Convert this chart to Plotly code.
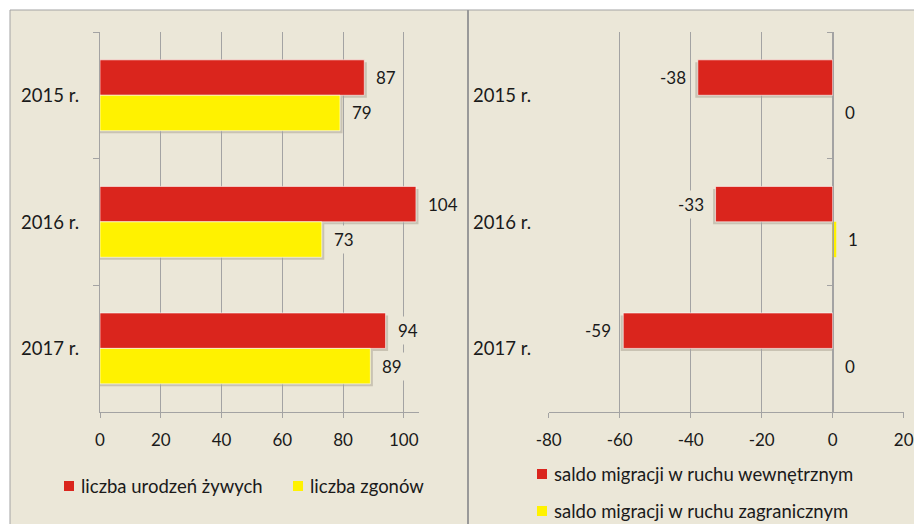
import plotly.graph_objects as go

# ---- data ----
years = ["2015 r.", "2016 r.", "2017 r."]
births = [87, 104, 94]
deaths = [79, 73, 89]
internal = [-38, -33, -59]
foreign = [0, 1, 0]
left_ticks = [0, 20, 40, 60, 80, 100]
right_ticks = [-80, -60, -40, -20, 0, 20]
left_names = ["liczba urodzeń żywych", "liczba zgonów"]
right_names = ["saldo migracji w ruchu wewnętrznym", "saldo migracji w ruchu zagranicznym"]

# ---- style ----
W, H = 914, 524
BG = "#EBE7D8"
RED = "#DA251D"
YEL = "#FFF200"
GRID = "#A3A3A3"
TXT = "#1A1A1A"
FONT = "Lato"
FS_NUM = 17
FS_TXT = 18.5
BARGAP = 0.44

def px(x):
    return x / W

def py(y):
    return 1 - y / H

plot_top, plot_bot = 32, 411.7
xl0, xl1 = 100, 419
xr0, xr1 = 548.7, 903.7
lrange = [0, 105]
rrange = [-80, 20]
zero_x = xr0 + (0 - rrange[0]) / (rrange[1] - rrange[0]) * (xr1 - xr0)

band = (plot_bot - plot_top) / len(years)
bw = band * (1 - BARGAP) / 2
half = (1 - BARGAP) / 2  # bar thickness in category units

fig = go.Figure()
edge = "rgba(255,255,255,0.6)"
fig.add_trace(go.Bar(x=births, y=years, orientation="h", name=left_names[0],
                     marker=dict(color=RED, line=dict(color=edge, width=1)),
                     xaxis="x", yaxis="y", hoverinfo="skip"))
fig.add_trace(go.Bar(x=deaths, y=years, orientation="h", name=left_names[1],
                     marker=dict(color=YEL, line=dict(color=edge, width=1)),
                     xaxis="x", yaxis="y", hoverinfo="skip"))
fig.add_trace(go.Bar(x=internal, y=years, orientation="h", name=right_names[0],
                     marker=dict(color=RED, line=dict(color=edge, width=1)),
                     xaxis="x2", yaxis="y2", hoverinfo="skip"))
fig.add_trace(go.Bar(x=foreign, y=years, orientation="h", name=right_names[1],
                     marker=dict(color=YEL, line=dict(width=0)),
                     xaxis="x2", yaxis="y2", hoverinfo="skip"))

axis_common = dict(showline=True, linecolor=GRID, linewidth=1, ticks="outside",
                   tickcolor=GRID, tickwidth=1, zeroline=False, fixedrange=True,
                   automargin=False,
                   tickfont=dict(family=FONT, size=FS_NUM, color=TXT))

fig.update_layout(
    width=W, height=H,
    margin=dict(l=0, r=0, t=0, b=0, pad=0),
    autosize=False,
    paper_bgcolor="white",
    plot_bgcolor="rgba(0,0,0,0)",
    barmode="group", bargap=BARGAP, bargroupgap=0,
    showlegend=False,
    font=dict(family=FONT, size=FS_NUM, color=TXT),
    xaxis=dict(domain=[px(xl0), px(xl1)], range=lrange, tickvals=left_ticks,
               ticktext=[str(v) for v in left_ticks],
               showgrid=True, gridcolor=GRID, gridwidth=1, ticklen=5,
               anchor="y", ticklabelstandoff=8, **axis_common),
    yaxis=dict(domain=[py(plot_bot), py(plot_top)], type="category",
               categoryorder="array", categoryarray=years,
               range=[len(years) - 0.5, -0.5], tickson="boundaries", ticklen=6,
               showticklabels=False, showgrid=False, anchor="x", **axis_common),
    xaxis2=dict(domain=[px(xr0), px(xr1)], range=rrange, tickvals=right_ticks,
                ticktext=[str(v) for v in right_ticks],
                showgrid=True, gridcolor=GRID, gridwidth=1, ticklen=5,
                anchor="y2", ticklabelstandoff=8, **axis_common),
    yaxis2=dict(domain=[py(plot_bot), py(plot_top)], type="category",
                categoryorder="array", categoryarray=years,
                range=[len(years) - 0.5, -0.5], tickson="boundaries", ticklen=6,
                showticklabels=False, showgrid=False, anchor="free",
                position=px(zero_x), **axis_common),
)

shapes = [
    dict(type="rect", xref="paper", yref="paper", x0=px(10), y0=py(10),
         x1=px(W + 5), y1=py(H + 5), fillcolor=BG, line=dict(color=GRID, width=1),
         layer="below"),
    dict(type="line", xref="paper", yref="paper", x0=px(468), x1=px(468),
         y0=py(10), y1=py(H + 5), line=dict(color="#999999", width=2), layer="below"),
]

# soft bar shadows (derived from the data arrays)
l_unit = (lrange[1] - lrange[0]) / (xl1 - xl0)   # data units per pixel
r_unit = (rrange[1] - rrange[0]) / (xr1 - xr0)
c_unit = 1 / band                                  # category units per pixel

def add_shadows(vals, xref, yref, upper, unit):
    for i, v in enumerate(vals):
        if v == 0:
            continue
        y_top = i - half if upper else i
        y_bot = y_top + half
        sgn = 1 if v > 0 else -1
        x_end = v + sgn * 2.5 * unit
        x_start = 0 if v > 0 else 0
        shapes.append(dict(type="rect", xref=xref, yref=yref,
                           x0=x_start, x1=x_end,
                           y0=y_top + 2.5 * c_unit, y1=y_bot + 2.5 * c_unit,
                           fillcolor="rgba(80,70,50,0.22)", line=dict(width=0),
                           layer="below"))

add_shadows(births, "x", "y", True, l_unit)
add_shadows(deaths, "x", "y", False, l_unit)
add_shadows(internal, "x2", "y2", True, r_unit)

annotations = []
# category labels
for yv in years:
    annotations.append(dict(x=px(81), xref="paper", xanchor="right", y=yv, yref="y",
                            yanchor="middle", text=yv, showarrow=False,
                            font=dict(family=FONT, size=FS_TXT, color=TXT)))
    annotations.append(dict(x=px(471), xref="paper", xanchor="left", y=yv, yref="y2",
                            yanchor="middle", text=yv, showarrow=False,
                            font=dict(family=FONT, size=FS_TXT, color=TXT)))

def add_labels(vals, xref, yref, shift):
    for yv, v in zip(years, vals):
        left = v >= 0
        annotations.append(dict(x=v, xref=xref, y=yv, yref=yref, yshift=shift,
                                xanchor="left" if left else "right",
                                xshift=8 if left else -8, yanchor="middle",
                                text=str(v), showarrow=False, bgcolor=BG, borderpad=3,
                                font=dict(family=FONT, size=FS_NUM, color=TXT)))

add_labels(births, "x", "y", bw / 2)
add_labels(deaths, "x", "y", -bw / 2)
add_labels(internal, "x2", "y2", bw / 2)
add_labels(foreign, "x2", "y2", -bw / 2)

# legends (manual)
def legend_item(x_sw, y_c, color, text):
    shapes.append(dict(type="rect", xref="paper", yref="paper",
                       x0=px(x_sw), x1=px(x_sw + 10), y0=py(y_c + 5), y1=py(y_c - 5),
                       fillcolor=color, line=dict(width=0)))
    annotations.append(dict(x=px(x_sw + 15), xref="paper", xanchor="left",
                            y=py(y_c), yref="paper", yanchor="middle", text=text,
                            showarrow=False, font=dict(family=FONT, size=FS_TXT, color=TXT)))

legend_item(64, 486, RED, left_names[0])
legend_item(293, 486, YEL, left_names[1])
legend_item(537, 474, RED, right_names[0])
legend_item(537, 511, YEL, right_names[1])

fig.update_layout(shapes=shapes, annotations=annotations)
fig.write_html("out.html", config={"displayModeBar": False},
               post_script="document.body.style.margin='0';"
                           "document.body.style.overflow='hidden';")
